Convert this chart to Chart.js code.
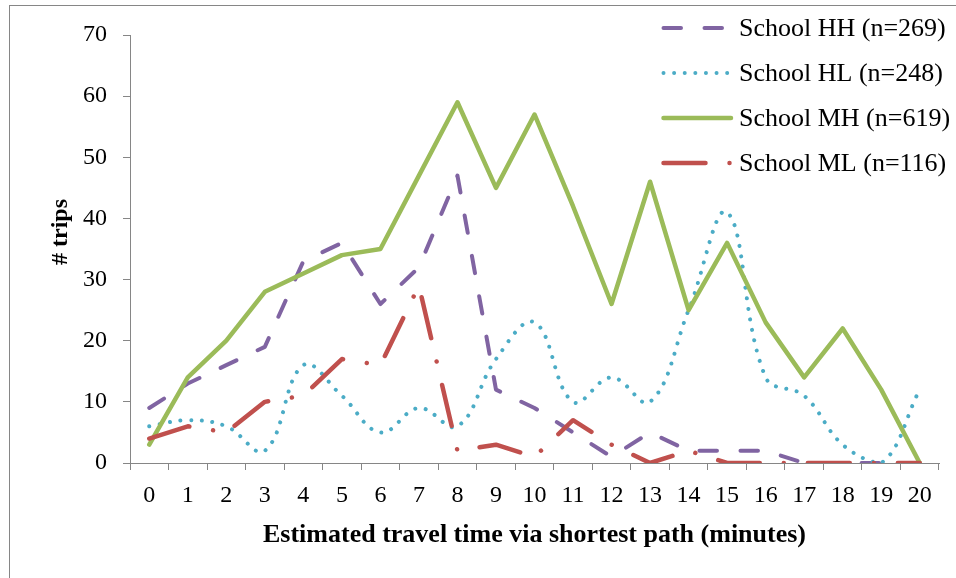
<!DOCTYPE html>
<html>
<head>
<meta charset="utf-8">
<script src="https://cdn.jsdelivr.net/npm/chart.js@4/dist/chart.umd.min.js"></script>
<style>
  html, body { margin: 0; padding: 0; background: #ffffff; }
  #wrap { width: 956px; height: 578px; }
</style>
</head>
<body>
<div id="wrap"><canvas id="c" width="956" height="578"></canvas></div>
<script>
// Travel time categories (minutes)
const minutes = ['0','1','2','3','4','5','6','7','8','9','10','11','12','13','14','15','16','17','18','19','20'];

// Number of trips per travel-time minute, by school
const schoolHH = [9, 13, 16, 19, 33, 36, 26, 32, 47, 12, 9, 5, 1, 5, 2, 2, 2, 0, 0, 0, 0];
const schoolHL = [6, 7, 6, 2, 16, 11, 5, 9, 6, 17, 23, 10, 14, 10, 25, 41, 14, 11, 3, 0, 12];
const schoolMH = [3, 14, 20, 28, 31, 34, 35, 47, 59, 45, 57, 42, 26, 46, 25, 36, 23, 14, 22, 12, 0];
const schoolML = [4, 6, 5, 10, 11, 17, 16, 29, 2, 3, 1, 7, 3, 0, 2, 0, 0, 0, 0, 0, 0];

const seriesNames = ['School HH (n=269)', 'School HL (n=248)', 'School MH (n=619)', 'School ML (n=116)'];
const yTicks = [0, 10, 20, 30, 40, 50, 60, 70];

const SERIF = "'Liberation Serif', 'Times New Roman', serif";
const AXIS_GRAY = '#868686';

// Outer frame of the chart object
const framePlugin = {
  id: 'frame',
  beforeDraw(chart) {
    const ctx = chart.ctx;
    ctx.save();
    ctx.strokeStyle = AXIS_GRAY;
    ctx.lineWidth = 1;
    ctx.strokeRect(9.5, 5.5, 1000, 1000);
    ctx.restore();
  }
};

// Rotated y-axis title
const yTitlePlugin = {
  id: 'yTitle',
  afterDraw(chart) {
    const ctx = chart.ctx;
    ctx.save();
    ctx.translate(61, 232);
    ctx.rotate(-Math.PI / 2);
    ctx.font = "bold 24px " + SERIF;
    ctx.fillStyle = '#000';
    ctx.textAlign = 'center';
    ctx.textBaseline = 'middle';
    ctx.fillText('# trips', 0, 0);
    ctx.restore();
  }
};

// Legend stacked in the upper right, one line sample per series
const legendPlugin = {
  id: 'sideLegend',
  afterDraw(chart) {
    const ctx = chart.ctx;
    chart.data.datasets.forEach((ds, i) => {
      const y = 28 + 45 * i;
      ctx.save();
      ctx.strokeStyle = ds.borderColor;
      ctx.lineWidth = ds.borderWidth;
      ctx.lineCap = 'round';
      ctx.setLineDash(ds.borderDash || []);
      ctx.beginPath();
      ctx.moveTo(663.5, y);
      ctx.lineTo(731, y);
      ctx.stroke();
      ctx.restore();
      ctx.save();
      ctx.font = "26px " + SERIF;
      ctx.fillStyle = '#000';
      ctx.textAlign = 'left';
      ctx.textBaseline = 'middle';
      ctx.fillText(ds.label, 739, y + 1);
      ctx.restore();
    });
  }
};

const datasets = [
  { label: seriesNames[0], data: schoolHH, borderColor: '#8064A2', borderWidth: 4,
    borderDash: [17.5, 23.5], tension: 0, order: 4 },
  { label: seriesNames[1], data: schoolHL, borderColor: '#4BACC6', borderWidth: 4,
    borderDash: [0.01, 10.6], tension: 0.4, order: 3 },
  { label: seriesNames[2], data: schoolMH, borderColor: '#9BBB59', borderWidth: 4.5,
    borderDash: [], tension: 0, order: 2 },
  { label: seriesNames[3], data: schoolML, borderColor: '#C0504D', borderWidth: 4.5,
    borderDash: [42, 24, 0.01, 24], tension: 0, order: 1 }
].map(d => Object.assign({
  fill: false, pointRadius: 0, pointHoverRadius: 0,
  borderCapStyle: 'round', borderJoinStyle: 'round'
}, d));

new Chart(document.getElementById('c'), {
  type: 'line',
  data: { labels: minutes, datasets },
  plugins: [framePlugin, yTitlePlugin, legendPlugin],
  options: {
    responsive: false,
    animation: false,
    devicePixelRatio: 1,
    layout: { padding: { left: 0, right: 17, top: 35, bottom: 0 } },
    plugins: { legend: { display: false }, tooltip: { enabled: false } },
    scales: {
      x: {
        offset: true,
        grid: { display: true, drawOnChartArea: false, offset: true, tickLength: 7, color: AXIS_GRAY },
        border: { color: AXIS_GRAY, width: 1 },
        ticks: { font: { family: SERIF, size: 24 }, color: '#000', padding: 11, maxRotation: 0, autoSkip: false },
        title: {
          display: true, text: 'Estimated travel time via shortest path (minutes)',
          font: { family: SERIF, size: 26, weight: 'bold' }, color: '#000',
          padding: { top: 0, bottom: 27 }
        },
        afterFit(scale) { scale.height = 115; }
      },
      y: {
        min: 0, max: 70,
        afterBuildTicks(scale) { scale.ticks = yTicks.map(v => ({ value: v })); },
        grid: { display: true, drawOnChartArea: false, tickLength: 7, color: AXIS_GRAY },
        border: { color: AXIS_GRAY, width: 1 },
        ticks: { font: { family: SERIF, size: 24 }, color: '#000', padding: 16 },
        afterFit(scale) { scale.width = 130; }
      }
    }
  }
});
</script>
</body>
</html>
